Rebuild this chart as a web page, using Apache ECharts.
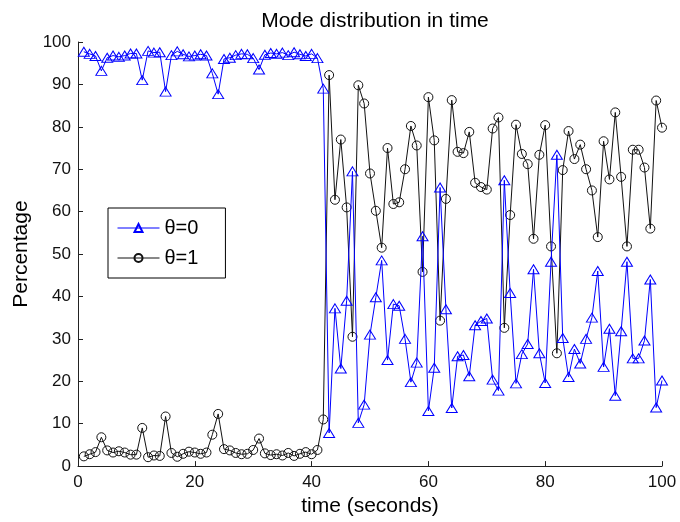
<!DOCTYPE html>
<html>
<head>
<meta charset="utf-8">
<script src="https://cdn.jsdelivr.net/npm/echarts@6/dist/echarts.min.js"></script>
<style>
  html, body { margin: 0; padding: 0; background: #fff; }
  #chart { width: 680px; height: 522px; }
</style>
</head>
<body>
<div id="chart"></div>
<script>
const time = [
  1, 2, 3, 4, 5, 6, 7, 8, 9, 10, 11, 12, 13, 14, 15, 16, 17, 18, 19, 20,
  21, 22, 23, 24, 25, 26, 27, 28, 29, 30, 31, 32, 33, 34, 35, 36, 37, 38, 39, 40,
  41, 42, 43, 44, 45, 46, 47, 48, 49, 50, 51, 52, 53, 54, 55, 56, 57, 58, 59, 60,
  61, 62, 63, 64, 65, 66, 67, 68, 69, 70, 71, 72, 73, 74, 75, 76, 77, 78, 79, 80,
  81, 82, 83, 84, 85, 86, 87, 88, 89, 90, 91, 92, 93, 94, 95, 96, 97, 98, 99, 100
];

// θ=0 (blue triangles)
const theta0 = [
  97.7, 97.2, 96.7, 93.2, 96.3, 96.8, 96.5, 96.8, 97.3, 97.3,
  91.0, 97.9, 97.5, 97.6, 88.3, 96.9, 97.8, 97.1, 96.6, 96.8,
  97.1, 96.8, 92.6, 87.7, 96.0, 96.3, 96.9, 97.2, 97.1, 96.2,
  93.5, 97.0, 97.4, 97.2, 97.5, 96.9, 97.6, 97.1, 96.7, 97.2,
  96.2, 89.0, 7.8, 37.2, 23.0, 39.0, 69.5, 10.2, 14.5, 31.0,
  39.8, 48.5, 25.0, 38.2, 37.8, 30.0, 19.8, 24.4, 54.2, 13.0,
  23.2, 65.7, 37.0, 13.7, 25.9, 26.2, 21.2, 33.2, 34.2, 34.8,
  20.4, 17.8, 67.4, 40.8, 19.5, 26.4, 28.8, 46.4, 26.6, 19.6,
  48.2, 73.4, 30.2, 21.0, 27.6, 24.2, 30.0, 35.0, 46.0, 23.4,
  32.4, 16.6, 31.8, 48.2, 25.4, 25.4, 29.6, 44.0, 13.8, 20.2
];

// θ=1 (black circles)
const theta1 = [
  2.3, 2.8, 3.3, 6.8, 3.7, 3.2, 3.5, 3.2, 2.7, 2.7,
  9.0, 2.1, 2.5, 2.4, 11.7, 3.1, 2.2, 2.9, 3.4, 3.2,
  2.9, 3.2, 7.4, 12.3, 4.0, 3.7, 3.1, 2.8, 2.9, 3.8,
  6.5, 3.0, 2.6, 2.8, 2.5, 3.1, 2.4, 2.9, 3.3, 2.8,
  3.8, 11.0, 92.2, 62.8, 77.0, 61.0, 30.5, 89.8, 85.5, 69.0,
  60.2, 51.5, 75.0, 61.8, 62.2, 70.0, 80.2, 75.6, 45.8, 87.0,
  76.8, 34.3, 63.0, 86.3, 74.1, 73.8, 78.8, 66.8, 65.8, 65.2,
  79.6, 82.2, 32.6, 59.2, 80.5, 73.6, 71.2, 53.6, 73.4, 80.4,
  51.8, 26.6, 69.8, 79.0, 72.4, 75.8, 70.0, 65.0, 54.0, 76.6,
  67.6, 83.4, 68.2, 51.8, 74.6, 74.6, 70.4, 56.0, 86.2, 79.8
];

const seriesNames = ['θ=0', 'θ=1'];

const chart = echarts.init(document.getElementById('chart'));
const font = 'Liberation Sans, Arial, sans-serif';

const axisCommon = {
  axisLine: { show: true, lineStyle: { color: '#222', width: 1 } },
  axisTick: { show: true, inside: true, length: 5, lineStyle: { color: '#222' } },
  splitLine: { show: false },
  axisLabel: { color: '#111', fontSize: 17, fontFamily: font }
};

const option = {
  animation: false,
  backgroundColor: '#fff',
  title: {
    text: 'Mode distribution in time',
    left: 370,
    textAlign: 'center',
    top: 6,
    textStyle: { fontSize: 21, fontWeight: 'normal', color: '#000', fontFamily: font }
  },
  grid: { left: 78, right: 18, top: 42, bottom: 53 },
  legend: {
    orient: 'vertical',
    left: 108,
    top: 208,
    data: seriesNames,
    itemWidth: 42,
    itemHeight: 10,
    itemGap: 10,
    padding: [10, 27, 10, 9],
    borderColor: '#000',
    borderWidth: 1,
    backgroundColor: '#fff',
    lineStyle: { width: 1 },
    textStyle: { fontSize: 20, color: '#000', fontFamily: font }
  },
  xAxis: Object.assign({}, axisCommon, {
    type: 'value',
    min: 0,
    max: 100,
    interval: 20,
    name: 'time (seconds)',
    nameLocation: 'middle',
    nameGap: 27,
    nameTextStyle: { fontSize: 21, color: '#000', fontFamily: font },
    axisLabel: Object.assign({}, axisCommon.axisLabel, { margin: 8 })
  }),
  yAxis: Object.assign({}, axisCommon, {
    type: 'value',
    min: 0,
    max: 100,
    interval: 10,
    name: 'Percentage',
    nameLocation: 'middle',
    nameGap: 45,
    nameTextStyle: { fontSize: 21, color: '#000', fontFamily: font },
    axisLabel: Object.assign({}, axisCommon.axisLabel, { margin: 7 })
  }),
  series: [
    {
      name: seriesNames[0],
      type: 'line',
      data: time.map((t, i) => [t, theta0[i]]),
      symbol: 'triangle',
      symbolSize: [11, 9],
      lineStyle: { color: '#0000ff', width: 1 },
      itemStyle: { color: 'rgba(0,0,0,0)', borderColor: '#0000ff', borderWidth: 1 },
      z: 3
    },
    {
      name: seriesNames[1],
      type: 'line',
      data: time.map((t, i) => [t, theta1[i]]),
      symbol: 'circle',
      symbolSize: 9,
      lineStyle: { color: '#111', width: 1 },
      itemStyle: { color: 'rgba(0,0,0,0)', borderColor: '#111', borderWidth: 1 },
      z: 2
    }
  ]
};

chart.setOption(option);
</script>
</body>
</html>
